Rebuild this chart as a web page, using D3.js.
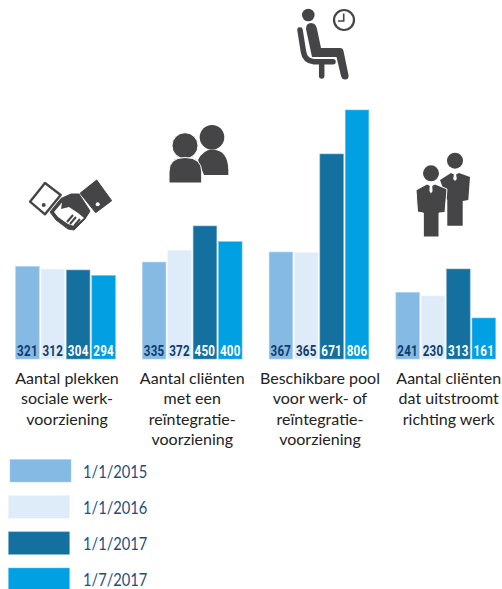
<!DOCTYPE html>
<html><head><meta charset="utf-8">
<script src="https://cdn.jsdelivr.net/npm/d3@7"></script>
<style>html,body{margin:0;padding:0;background:#fff;overflow:hidden}svg{display:block}</style>
</head><body><svg id="c" width="502" height="589"></svg>
<script>
const categories = ["plekken","clienten","pool","uitstroom"];
const categoryLines = [
  ["Aantal plekken","sociale werk-","voorziening"],
  ["Aantal cliënten","met een","reïntegratie-","voorziening"],
  ["Beschikbare pool","voor werk- of","reïntegratie-","voorziening"],
  ["Aantal cliënten","dat uitstroomt","richting werk"]
];
const seriesNames = ["1/1/2015","1/1/2016","1/1/2017","1/7/2017"];
const values2015 = [321,335,367,241];
const values2016 = [312,372,365,230];
const values2017 = [304,450,671,313];
const values2017b = [294,400,806,161];
const seriesValues = [values2015,values2016,values2017,values2017b];
const colors = ["#85bae4","#deebf8","#14709f","#00a0e3"];
const edgeColors = ["#a9d0ef","#eaf3fb","#6ba3c4","#5cc3ee"];
const labelColors = ["#0f3c6c","#0f3c6c","#ffffff","#ffffff"];

const svg = d3.select("#c");
const baseY = 359;
// The source infographic is not drawn to a strict linear scale: the scale follows its bar lengths
const y = d3.scaleLinear().domain([0,161,294,304,313,450,806]).range([baseY,318,275.5,270,269,226,110]);
const x0 = d3.scaleBand().domain(categories).range([15.7,495.5]).paddingInner(0.214);
const x1 = d3.scaleBand().domain(seriesNames).range([0,x0.bandwidth()]).paddingInner(0.075);
const labelNudge = [1.5,0,1,3];

const groups = svg.selectAll("g.grp").data(categories).join("g").attr("class","grp")
  .attr("transform",d=>`translate(${x0(d)},0)`);
groups.each(function(cat,ci){
  const g = d3.select(this);
  seriesNames.forEach((s,si)=>{
    const v = seriesValues[si][ci];
    g.append("rect").attr("x",x1(s)).attr("y",y(v)).attr("width",x1.bandwidth()).attr("height",baseY-y(v))
      .attr("fill",colors[si]).attr("stroke",edgeColors[si]).attr("stroke-width",0.6);
    g.append("text").attr("transform",`translate(${x1(s)+x1.bandwidth()/2},356) scale(0.8,1)`)
      .attr("text-anchor","middle")
      .attr("font-family","Roboto").attr("font-weight",700).attr("font-size",14.5)
      .attr("letter-spacing",0.3).attr("fill",labelColors[si]).text(v);
  });
  const cx = x0.bandwidth()/2 + labelNudge[ci];
  g.selectAll("text.cat").data(categoryLines[ci]).join("text").attr("class","cat")
    .attr("x",cx).attr("y",(d,i)=>383.5+i*20.6).attr("text-anchor","middle")
    .attr("font-family","Lato").attr("font-size",16)
    .attr("fill","#222").text(d=>d);
});

// legend
const legY = d3.scaleLinear().domain([0,3]).range([459.5,568]);
seriesNames.forEach((s,i)=>{
  svg.append("rect").attr("x",i===0?10:8.5).attr("y",legY(i)).attr("width",61).attr("height",22.5)
    .attr("fill",colors[i]).attr("stroke",edgeColors[i]).attr("stroke-width",0.5);
  svg.append("text").attr("transform",`translate(83,${legY(i)+18.2}) scale(0.9,1)`).attr("font-family","Lato")
    .attr("font-size",16.3).attr("fill","#1d4f7c").text(s);
});

// pictograms
const ink = "#454547";
const icons = svg.append("g");
// handshake
const hs = icons.append("g");
hs.append("path").attr("d","M45,183L60.7,195L45,214.3L30,201.7Z").attr("fill","#fff").attr("stroke",ink).attr("stroke-width",2.4).attr("stroke-linejoin","round");
hs.append("circle").attr("cx",43.7).attr("cy",205).attr("r",2).attr("fill",ink);
hs.append("path").attr("d","M96.7,180L111.7,200.7L95.7,212.7L80,193.3Z").attr("fill",ink).attr("stroke",ink).attr("stroke-linejoin","round");
hs.append("circle").attr("cx",97.7).attr("cy",204.3).attr("r",2).attr("fill","#fff");
hs.append("path").attr("d","M50,212L61,198.5L71,194L79,194L90,211L85,219L74,230L68,229L56,220Z").attr("fill",ink).attr("stroke",ink).attr("stroke-linejoin","round");
hs.append("path").attr("d","M54,212L62,202.5L61,209L69,207L78,213L84,218L74,226L68,224L58,217Z").attr("fill","#fff");
hs.append("path").attr("d","M64,207L71,201L81,213M70,224L76,217M74,226L80,219M67,222L73,215").attr("fill","none").attr("stroke",ink).attr("stroke-width",2);
// two persons
const pp = icons.append("g").attr("fill",ink);
pp.append("circle").attr("cx",212).attr("cy",137.3).attr("r",12.3);
pp.append("path").attr("d","M204,175L198,160Q203,150 212,149.5Q228,150 228.3,170V175Z");
pp.append("circle").attr("cx",185).attr("cy",145.7).attr("r",13).attr("stroke","#fff").attr("stroke-width",1);
pp.append("path").attr("d","M169,183V172Q169,157.5 185,157.5Q201.7,157.5 201.7,172V183Z").attr("stroke","#fff").attr("stroke-width",1);
// waiting person
const sit = icons.append("g");
sit.append("circle").attr("cx",308.3).attr("cy",15).attr("r",6.3).attr("fill",ink);
sit.append("circle").attr("cx",344).attr("cy",20).attr("r",10).attr("fill","#fff").attr("stroke",ink).attr("stroke-width",2.2);
sit.append("path").attr("d","M343.7,13.5V21H338").attr("fill","none").attr("stroke",ink).attr("stroke-width",1.6);
sit.append("path").attr("d","M300,30L303.5,52Q305,61 314,61.7L333,61.7").attr("fill","none").attr("stroke",ink).attr("stroke-width",5.5).attr("stroke-linecap","round");
sit.append("path").attr("d","M321.7,62V76").attr("stroke",ink).attr("stroke-width",5.5).attr("stroke-linecap","round");
sit.append("path").attr("d","M306,29Q306,23 311,23Q316,23 317,29L321,48H340Q343,48 343.5,51L348.5,75Q349,79.5 345,79.5Q342,79.5 341,76L336.5,57H312Z").attr("fill",ink);
// two suited men
const sm = icons.append("g");
sm.append("circle").attr("cx",455).attr("cy",160.7).attr("r",8).attr("fill",ink);
sm.append("path").attr("d","M440,180L451,173L455,175L459,173L470,177L468.3,200L462.7,201V225.7H447.3V200Z").attr("fill",ink);
sm.append("path").attr("d","M454,174L456,174L456.8,179L455,181L453.2,179Z").attr("fill","#fff");
sm.append("circle").attr("cx",431).attr("cy",173.3).attr("r",8).attr("fill",ink);
sm.append("path").attr("d","M416,190L427,184L431,186L435,184L447,189L445,212.5L439,213V237H423.3V213L417.5,212Z").attr("fill",ink).attr("stroke","#fff").attr("stroke-width",1);
sm.append("path").attr("d","M429.8,185L432.2,185L432.6,191L431,193.5L429.4,191Z").attr("fill","#fff");
</script></body></html>
